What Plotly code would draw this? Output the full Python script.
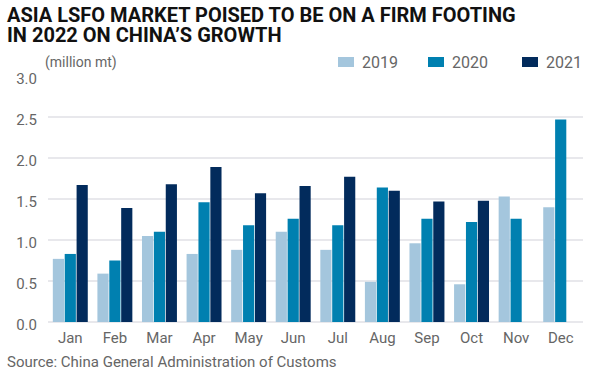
import plotly.graph_objects as go

months = ["Jan", "Feb", "Mar", "Apr", "May", "Jun", "Jul", "Aug", "Sep", "Oct", "Nov", "Dec"]
y2019 = [0.77, 0.59, 1.05, 0.83, 0.88, 1.10, 0.88, 0.49, 0.96, 0.46, 1.53, 1.40]
y2020 = [0.83, 0.75, 1.10, 1.46, 1.18, 1.26, 1.18, 1.64, 1.26, 1.22, 1.26, 2.47]
y2021 = [1.67, 1.39, 1.68, 1.89, 1.57, 1.66, 1.77, 1.60, 1.47, 1.48, None, None]
series = [("2019", y2019, "#a4c6dd"), ("2020", y2020, "#0080b0"), ("2021", y2021, "#022b5c")]
title_lines = ["ASIA LSFO MARKET POISED TO BE ON A FIRM FOOTING", "IN 2022 ON CHINA\u2019S GROWTH"]

W, H = 594, 374
L, R, T, B = 48, 11, 76, 52
pw, ph = W - L - R, H - T - B

def px(x):
    return (x - L) / pw

def py(y):
    return (H - B - y) / ph

fig = go.Figure()
for name, vals, col in series:
    fig.add_trace(go.Bar(x=months, y=vals, name=name, marker=dict(color=col, line=dict(width=0))))

shapes = []
annotations = []
for line, yc in zip(title_lines, [15, 35]):
    annotations.append(dict(text="<b>" + line + "</b>", xref="paper", yref="paper", x=px(5), y=py(yc),
                            xanchor="left", yanchor="middle", showarrow=False, align="left",
                            font=dict(family="Roboto", size=20, color="#111111")))
annotations += [
    dict(text="(million mt)", xref="paper", yref="paper", x=px(43), y=py(62), xanchor="left", yanchor="middle",
         showarrow=False, font=dict(size=14, color="#666666")),
    dict(text="Source: China General Administration of Customs", xref="paper", yref="paper",
         x=px(5), y=py(362), xanchor="left", yanchor="middle", showarrow=False,
         font=dict(size=15, color="#666666")),
]
legend_sq = [338, 428, 522]
for (name, vals, col), x0 in zip(series, legend_sq):
    shapes.append(dict(type="rect", xref="paper", yref="paper", x0=px(x0), x1=px(x0 + 16),
                       y0=py(67), y1=py(57), fillcolor=col, line=dict(width=0)))
    annotations.append(dict(text=name, xref="paper", yref="paper", x=px(x0 + 22), y=py(62),
                            xanchor="left", yanchor="middle", showarrow=False,
                            font=dict(size=16, color="#666666")))

fig.update_layout(
    width=W, height=H,
    margin=dict(l=L, r=R, t=T, b=B, autoexpand=False),
    paper_bgcolor="white", plot_bgcolor="white",
    barmode="group", bargap=0.2, bargroupgap=0.06,
    font=dict(family="Roboto, Noto Sans, sans-serif", color="#666666", size=15),
    showlegend=False,
    xaxis=dict(showgrid=False, showline=False, ticks="", automargin=False, ticklabelstandoff=5,
               tickfont=dict(size=15, color="#666666")),
    yaxis=dict(range=[0, 3.0], dtick=0.5, tickformat=".1f", showgrid=True, gridcolor="#e8e8ec",
               gridwidth=2, zeroline=True, zerolinecolor="#e8e8ec", zerolinewidth=2, automargin=False,
               showline=False, ticks="", ticklabelstandoff=10, ticklabelshift=3,
               tickfont=dict(size=15, color="#666666")),
    shapes=shapes,
    annotations=annotations,
)

fig.write_html("out.html", config={"displayModeBar": False},
               post_script="document.body.style.margin='0';document.body.style.overflow='hidden';")
